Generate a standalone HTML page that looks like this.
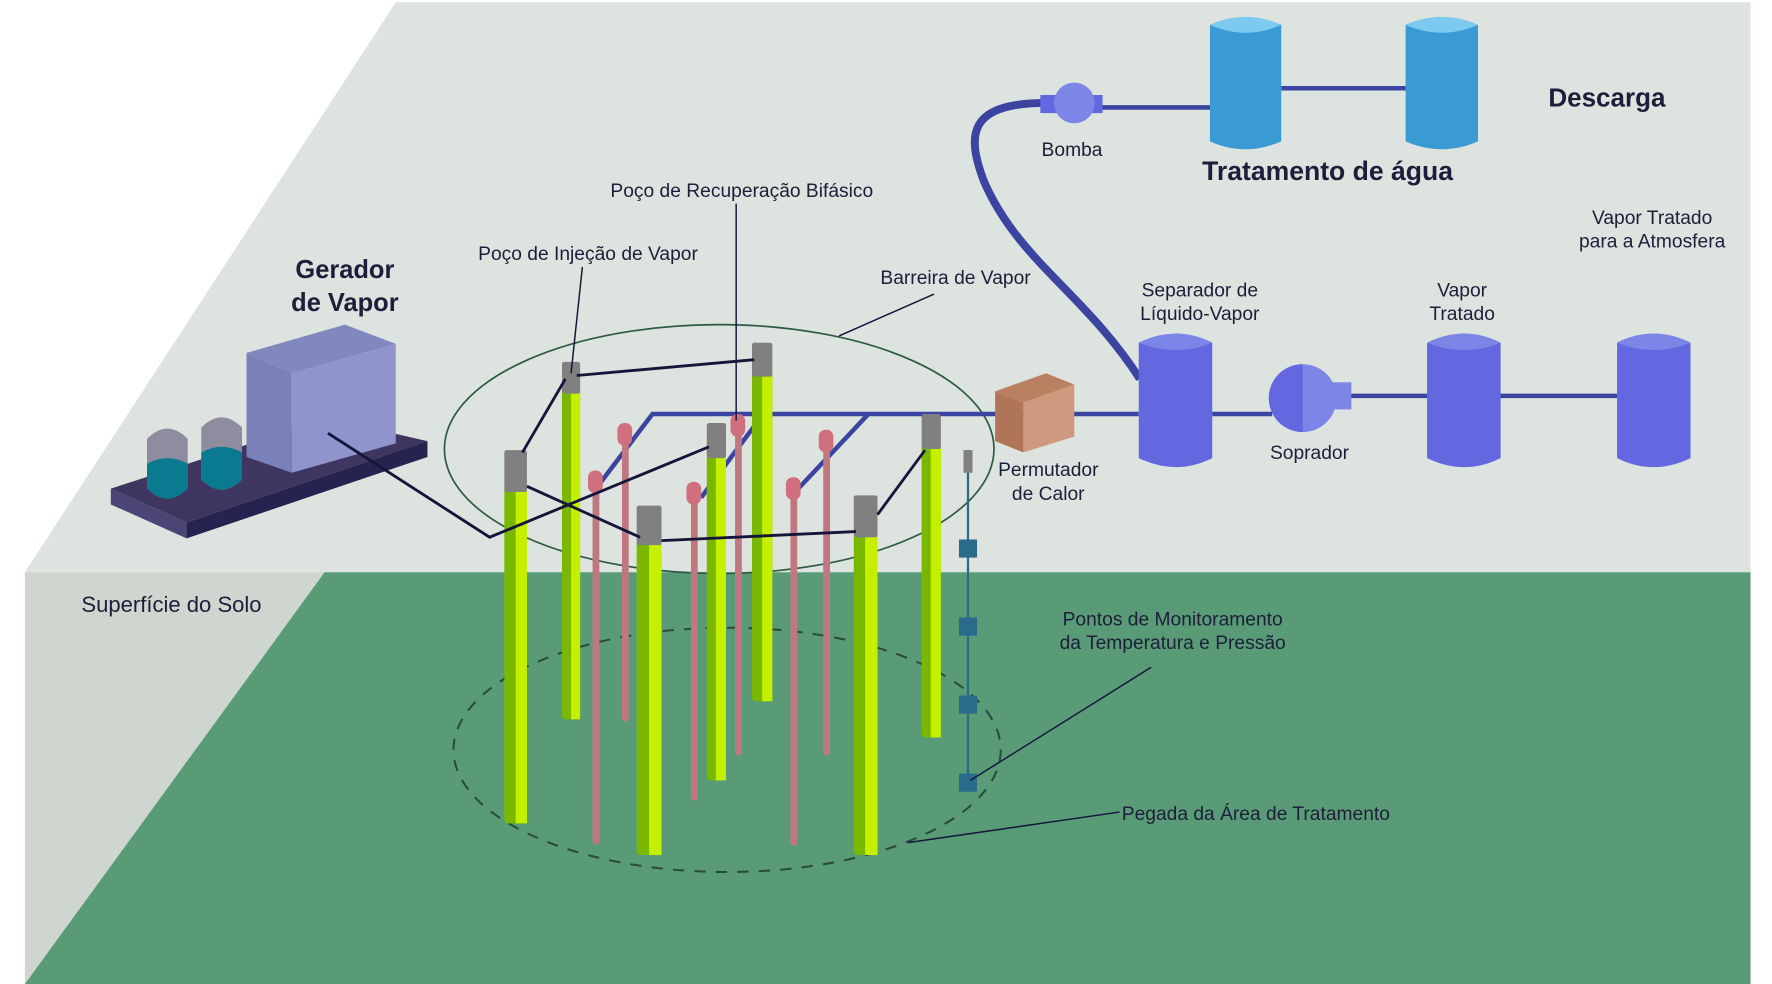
<!DOCTYPE html>
<html><head><meta charset="utf-8"><style>html,body{margin:0;padding:0;background:#fff}svg{display:block}text{font-family:"Liberation Sans",sans-serif;fill:#1e1e3a}</style></head><body>
<svg width="1772" height="984" viewBox="0 0 1567 870" preserveAspectRatio="none" xmlns="http://www.w3.org/2000/svg">
<rect width="1567" height="870" fill="#fff"/>
<polygon points="350,2 1548,2 1548,506 22,506" fill="#dde3df"/>
<polygon points="22,506 287,506 22,870" fill="#cfd5cf"/>
<polygon points="287,506 1548,506 1548,870 22,870" fill="#589b76"/>

<!-- generator -->
<polygon points="98,432 290,370 378,390 165,462" fill="#3e3661"/>
<polygon points="98,432 165,462 165,476 98,446" fill="#4a4575"/>
<polygon points="165,462 378,390 378,404 165,476" fill="#262350"/>
<polygon points="218,312 305,287 350,304 258,330" fill="#8088bd"/>
<polygon points="218,312 258,330 258,418 218,404" fill="#7a81b8"/>
<polygon points="258,330 350,304 350,392 258,418" fill="#8f94cc"/>
<path d="M130,388 Q148,370 166,388 V430 Q148,448 130,430Z" fill="#8e8c9e"/>
<path d="M130,410 Q148,400 166,410 V432 Q148,450 130,432Z" fill="#0a7a90"/>
<path d="M178,378 Q196,360 214,378 V424 Q196,442 178,424Z" fill="#8e8c9e"/>
<path d="M178,400 Q196,390 214,400 V424 Q196,442 178,424Z" fill="#0a7a90"/>

<text x="305" y="246" font-size="22.5" text-anchor="middle" font-weight="bold">Gerador</text>
<text x="305" y="275" font-size="22.5" text-anchor="middle" font-weight="bold">de Vapor</text>

<!-- barrier -->
<ellipse cx="636" cy="397" rx="243" ry="110" fill="none" stroke="#2e5a45" stroke-width="1.5"/>
<ellipse cx="643" cy="663" rx="242" ry="108" fill="none" stroke="#2a4a3a" stroke-width="1.8" stroke-dasharray="10,9"/>

<!-- blue header pipes -->
<g stroke="#3b44a0" stroke-width="4" fill="none">
<path d="M530,428 L577,366 L1007,366"/>
<path d="M620,440 L675,366"/>
<path d="M705,433 L768,366"/>
<path d="M1072,366 L1125,366"/>
<path d="M1180,350 L1430,350"/>
<path d="M968,95 L1072,95"/>
<path d="M1133,78 L1243,78"/>
</g>
<path d="M925,91 C855,91 855,120 870,160 C900,230 960,260 1008,335" stroke="#3b44a0" stroke-width="7" fill="none"/>

<!-- pink rods -->
<g fill="#c07880">
<rect x="524" y="420" width="6" height="327" rx="3"/><rect x="520" y="416" width="13" height="20" rx="6" fill="#d0707e"/>
<rect x="550" y="378" width="6" height="260" rx="3"/><rect x="546" y="374" width="13" height="20" rx="6" fill="#d0707e"/>
<rect x="611" y="430" width="6" height="278" rx="3"/><rect x="607" y="426" width="13" height="20" rx="6" fill="#d0707e"/>
<rect x="650" y="370" width="6" height="298" rx="3"/><rect x="646" y="366" width="13" height="20" rx="6" fill="#d0707e"/>
<rect x="699" y="426" width="6" height="322" rx="3"/><rect x="695" y="422" width="13" height="20" rx="6" fill="#d0707e"/>
<rect x="728" y="384" width="6" height="284" rx="3"/><rect x="724" y="380" width="13" height="20" rx="6" fill="#d0707e"/>
</g>

<!-- green wells -->
<g>
<rect x="446" y="430" width="20" height="298" rx="3" fill="#7ab800"/><rect x="456" y="430" width="10" height="298" fill="#c4f000"/><rect x="446" y="398" width="20" height="37" rx="2" fill="#808080"/>
<rect x="497" y="344" width="16" height="292" rx="3" fill="#7ab800"/><rect x="505" y="344" width="8" height="292" fill="#c4f000"/><rect x="497" y="320" width="16" height="28" rx="2" fill="#808080"/>
<rect x="563" y="478" width="22" height="278" rx="3" fill="#7ab800"/><rect x="574" y="478" width="11" height="278" fill="#c4f000"/><rect x="563" y="447" width="22" height="35" rx="2" fill="#808080"/>
<rect x="625" y="402" width="17" height="288" rx="3" fill="#7ab800"/><rect x="633" y="402" width="9" height="288" fill="#c4f000"/><rect x="625" y="374" width="17" height="31" rx="2" fill="#808080"/>
<rect x="665" y="330" width="18" height="290" rx="3" fill="#7ab800"/><rect x="674" y="330" width="9" height="290" fill="#c4f000"/><rect x="665" y="303" width="18" height="30" rx="2" fill="#808080"/>
<rect x="755" y="472" width="21" height="284" rx="3" fill="#7ab800"/><rect x="765" y="472" width="11" height="284" fill="#c4f000"/><rect x="755" y="438" width="21" height="37" rx="2" fill="#808080"/>
<rect x="815" y="394" width="17" height="258" rx="3" fill="#7ab800"/><rect x="823" y="394" width="9" height="258" fill="#c4f000"/><rect x="815" y="366" width="17" height="31" rx="2" fill="#808080"/>
</g>

<!-- dark connection lines -->
<g stroke="#15153a" stroke-width="2.5" fill="none">
<path d="M290,383 L433,475 L627,395"/>
<path d="M462,400 L500,335"/>
<path d="M510,332 L667,318"/>
<path d="M466,430 L566,475"/>
<path d="M585,478 L757,470"/>
<path d="M776,455 L818,398"/>
</g>

<!-- monitoring -->
<line x1="856" y1="398" x2="856" y2="700" stroke="#2a6a8a" stroke-width="2"/>
<rect x="852" y="398" width="8" height="20" fill="#808080"/>
<g fill="#2a6a8a"><rect x="848" y="477" width="16" height="16"/><rect x="848" y="546" width="16" height="16"/><rect x="848" y="615" width="16" height="16"/><rect x="848" y="684" width="16" height="16"/></g>

<!-- permutador -->
<polygon points="880,346 925,330 950,340 905,356" fill="#b98062"/>
<polygon points="880,346 905,356 905,400 880,390" fill="#b07558"/>
<polygon points="905,356 950,340 950,386 905,400" fill="#cd9a80"/>

<!-- cylinders -->
<g>
<path d="M1007,303 Q1040,287 1072,303 V405 Q1040,421 1007,405Z" fill="#6468e0"/><path d="M1007,303 Q1040,287 1072,303 Q1040,316 1007,303Z" fill="#7b86e6"/>
<path d="M1262,303 Q1295,287 1327,303 V405 Q1295,421 1262,405Z" fill="#6468e0"/><path d="M1262,303 Q1295,287 1327,303 Q1295,316 1262,303Z" fill="#7b86e6"/>
<path d="M1430,303 Q1462,287 1495,303 V405 Q1462,421 1430,405Z" fill="#6468e0"/><path d="M1430,303 Q1462,287 1495,303 Q1462,316 1430,303Z" fill="#7b86e6"/>
<path d="M1070,22 Q1101,8 1133,22 V125 Q1101,139 1070,125Z" fill="#3a9ad4"/><path d="M1070,22 Q1101,8 1133,22 Q1101,36 1070,22Z" fill="#7ccaf0"/>
<path d="M1243,22 Q1275,8 1307,22 V125 Q1275,139 1243,125Z" fill="#3a9ad4"/><path d="M1243,22 Q1275,8 1307,22 Q1275,36 1243,22Z" fill="#7ccaf0"/>
</g>
<rect x="1160" y="338" width="35" height="24" fill="#7b86e6"/>
<circle cx="1152" cy="352" r="30" fill="#7b86e6"/>
<path d="M1152,322 A30,30 0 0 0 1152,382Z" fill="#6468e0"/>
<rect x="920" y="84" width="55" height="16" fill="#6468e0"/>
<circle cx="950" cy="91" r="18" fill="#7b86e6"/>

<!-- leader lines -->
<g stroke="#15153a" stroke-width="1.3" fill="none">
<line x1="515" y1="236" x2="505" y2="330"/>
<line x1="651" y1="180" x2="651" y2="372"/>
<line x1="826" y1="260" x2="742" y2="297"/>
<line x1="1018" y1="590" x2="858" y2="690"/>
<line x1="990" y1="718" x2="803" y2="745"/>
</g>

<g font-size="17">
<text x="656" y="174" text-anchor="middle">Poço de Recuperação Bifásico</text>
<text x="520" y="230" text-anchor="middle">Poço de Injeção de Vapor</text>
<text x="845" y="251" text-anchor="middle">Barreira de Vapor</text>
<text x="927" y="421" text-anchor="middle">Permutador</text>
<text x="927" y="442" text-anchor="middle">de Calor</text>
<text x="1061" y="262" text-anchor="middle">Separador de</text>
<text x="1061" y="283" text-anchor="middle">Líquido-Vapor</text>
<text x="1158" y="406" text-anchor="middle">Soprador</text>
<text x="1293" y="262" text-anchor="middle">Vapor</text>
<text x="1293" y="283" text-anchor="middle">Tratado</text>
<text x="1461" y="198" text-anchor="middle">Vapor Tratado</text>
<text x="1461" y="219" text-anchor="middle">para a Atmosfera</text>
<text x="948" y="138" text-anchor="middle">Bomba</text>
<text x="1037" y="553" text-anchor="middle">Pontos de Monitoramento</text>
<text x="1037" y="574" text-anchor="middle">da Temperatura e Pressão</text>
<text x="992" y="725">Pegada da Área de Tratamento</text>
<text x="72" y="541" font-size="19.5">Superfície do Solo</text>
</g>
<text x="1174" y="159" font-size="23.5" text-anchor="middle" font-weight="bold">Tratamento de água</text>
<text x="1421" y="94" font-size="23" text-anchor="middle" font-weight="bold">Descarga</text>
</svg>
</body></html>
